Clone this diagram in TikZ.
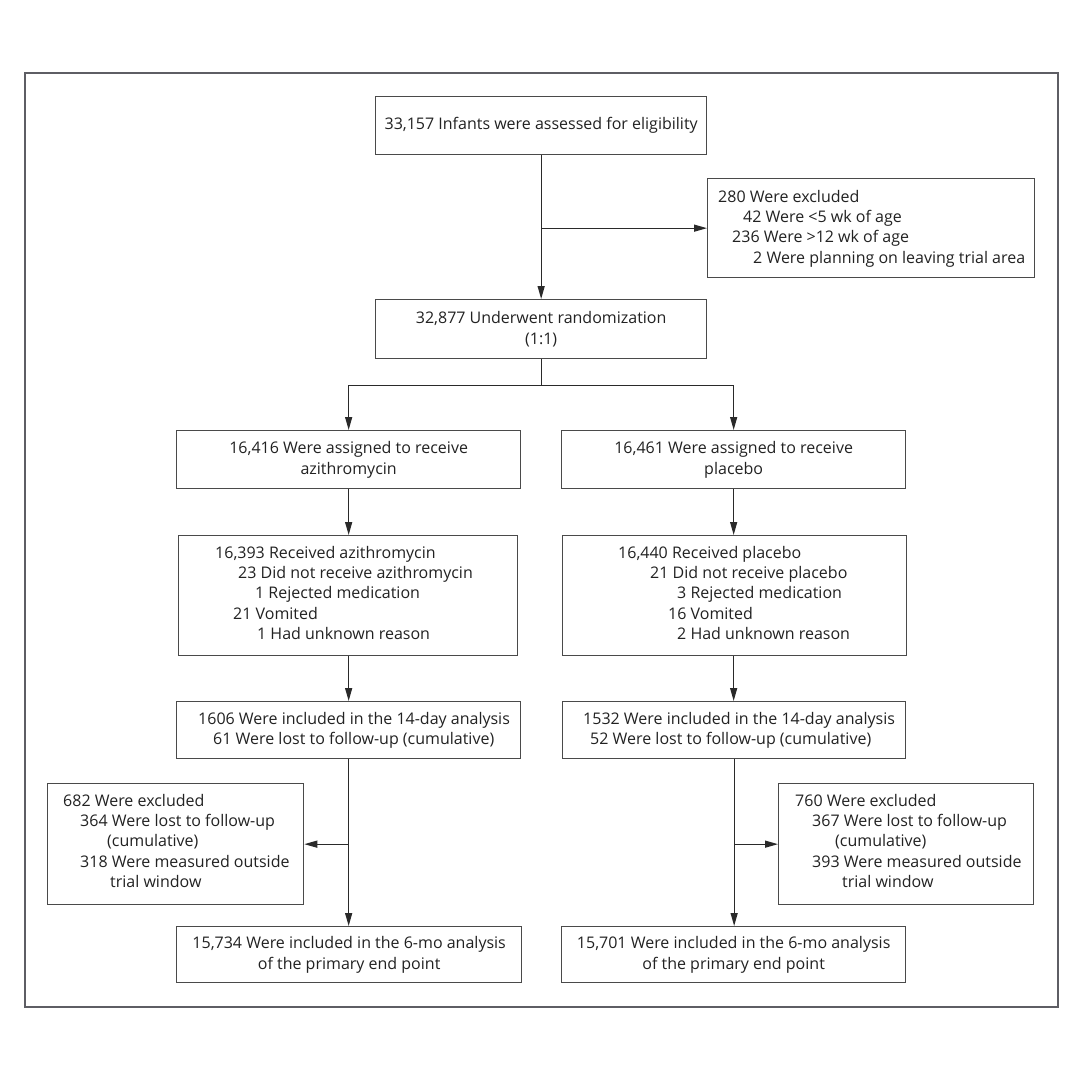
\documentclass[tikz,border=0pt]{standalone}
\usepackage{fontspec}
\setmainfont{Open Sans}
\usetikzlibrary{arrows.meta,calc}
\definecolor{ink}{HTML}{222222}
\definecolor{boxc}{HTML}{4A4A4A}
\definecolor{linec}{HTML}{2A2A2A}
\definecolor{framec}{HTML}{5E5E64}
\begin{document}
\begin{tikzpicture}[x=1pt,y=-1pt,
  box/.style={draw=boxc, line width=1.3pt, inner sep=0pt, anchor=north west, text=ink, align=center, font=\fontsize{16}{20.5}\selectfont},
  txt/.style={anchor=base west, inner sep=0pt, text=ink, font=\fontsize{16}{20.5}\selectfont},
  arr/.style={draw=linec, line width=1.3pt, -{Triangle[length=13pt,width=7pt]}},
  ln/.style={draw=linec, line width=1.3pt}]
\useasboundingbox (0,0) rectangle (1080,1080);
\fill[white] (0,0) rectangle (1080,1080);
\node[draw=framec, line width=2pt, inner sep=0pt, anchor=north west, minimum width=1033pt, minimum height=934pt] (frame) at (24,72) {};

% boxes
\node[box, minimum width=331pt, minimum height=58pt] (b1) at (375,96) {33,157 Infants were assessed for eligibility};
\node[box, minimum width=327pt, minimum height=99pt] (ex0) at (707,178) {};
\node[box, minimum width=331pt, minimum height=59pt] (b2) at (375,299) {32,877 Underwent randomization\\(1:1)};
\node[box, minimum width=344pt, minimum height=58pt] (a1) at (176,430) {16,416 Were assigned to receive\\azithromycin};
\node[box, minimum width=344pt, minimum height=58pt] (p1) at (561,430) {16,461 Were assigned to receive\\placebo};
\node[box, minimum width=339pt, minimum height=120pt] (a2) at (178,535) {};
\node[box, minimum width=344pt, minimum height=120pt] (p2) at (562,535) {};
\node[box, minimum width=344pt, minimum height=57pt] (a3) at (176,701) {};
\node[box, minimum width=343pt, minimum height=57pt] (p3) at (562,701) {};
\node[box, minimum width=256pt, minimum height=121pt] (exa) at (47,783) {};
\node[box, minimum width=255pt, minimum height=121pt] (exp) at (778,783) {};
\node[box, minimum width=345pt, minimum height=56pt] (a4) at (176,926) {15,734 Were included in the 6-mo analysis\\of the primary end point};
\node[box, minimum width=344pt, minimum height=56pt] (p4) at (561,926) {15,701 Were included in the 6-mo analysis\\of the primary end point};

% texts of indented boxes
\node[txt] (ex0l1) at (718,202) {280 Were excluded};
\node[txt] (ex0l2) at (743,222.3) {42 Were <5 wk of age};
\node[txt] (ex0l3) at (732,242.6) {236 Were >12 wk of age};
\node[txt] (ex0l4) at (753,263) {2 Were planning on leaving trial area};

\node[txt] (a2l1) at (215,558) {16,393 Received azithromycin};
\node[txt] (a2l2) at (238,578.4) {23 Did not receive azithromycin};
\node[txt] (a2l3) at (255,598.8) {1 Rejected medication};
\node[txt] (a2l4) at (233,619.2) {21 Vomited};
\node[txt] (a2l5) at (257,639.6) {1 Had unknown reason};

\node[txt] (p2l1) at (618,558) {16,440 Received placebo};
\node[txt] (p2l2) at (650,578.4) {21 Did not receive placebo};
\node[txt] (p2l3) at (677,598.8) {3 Rejected medication};
\node[txt] (p2l4) at (668,619.2) {16 Vomited};
\node[txt] (p2l5) at (677,639.6) {2 Had unknown reason};

\node[txt] (a3l1) at (198,724) {1606 Were included in the 14-day analysis};
\node[txt] (a3l2) at (213,744.5) {61 Were lost to follow-up (cumulative)};
\node[txt] (p3l1) at (583,724) {1532 Were included in the 14-day analysis};
\node[txt] (p3l2) at (590,744.5) {52 Were lost to follow-up (cumulative)};

\node[txt] (exal1) at (63,806.5) {682 Were excluded};
\node[txt] (exal2) at (80,826.7) {364 Were lost to follow-up};
\node[txt] (exal3) at (107,846.9) {(cumulative)};
\node[txt] (exal4) at (80,867.1) {318 Were measured outside};
\node[txt] (exal5) at (110,887.3) {trial window};

\node[txt] (expl1) at (795,806.5) {760 Were excluded};
\node[txt] (expl2) at (812,826.7) {367 Were lost to follow-up};
\node[txt] (expl3) at (835,846.9) {(cumulative)};
\node[txt] (expl4) at (812,867.1) {393 Were measured outside};
\node[txt] (expl5) at (842,887.3) {trial window};

% connectors
\draw[arr] (b1.south) -- (b2.north);
\coordinate (j0) at (b1.south |- ex0.west);
\draw[arr] (j0) -- (ex0.west);
\coordinate (split) at ($(b2.south)+(0,26)$);
\draw[ln] (b2.south) -- (split);
\draw[arr] (split) -| (a1.north);
\draw[arr] (split) -| (p1.north);
\draw[arr] (a1.south) -- (a1.south |- a2.north);
\draw[arr] (p1.south) -- (p1.south |- p2.north);
\draw[arr] (a1.south |- a2.south) -- (a1.south |- a3.north);
\draw[arr] (p1.south |- p2.south) -- (p1.south |- p3.north);
\draw[arr] (a3.south) -- (a3.south |- a4.north);
\draw[arr] (p3.south) -- (p3.south |- p4.north);
\coordinate (ja) at (a3.south |- exa.east);
\draw[arr] (ja) -- (exa.east);
\coordinate (jp) at (p3.south |- exp.west);
\draw[arr] (jp) -- (exp.west);
\end{tikzpicture}
\end{document}
